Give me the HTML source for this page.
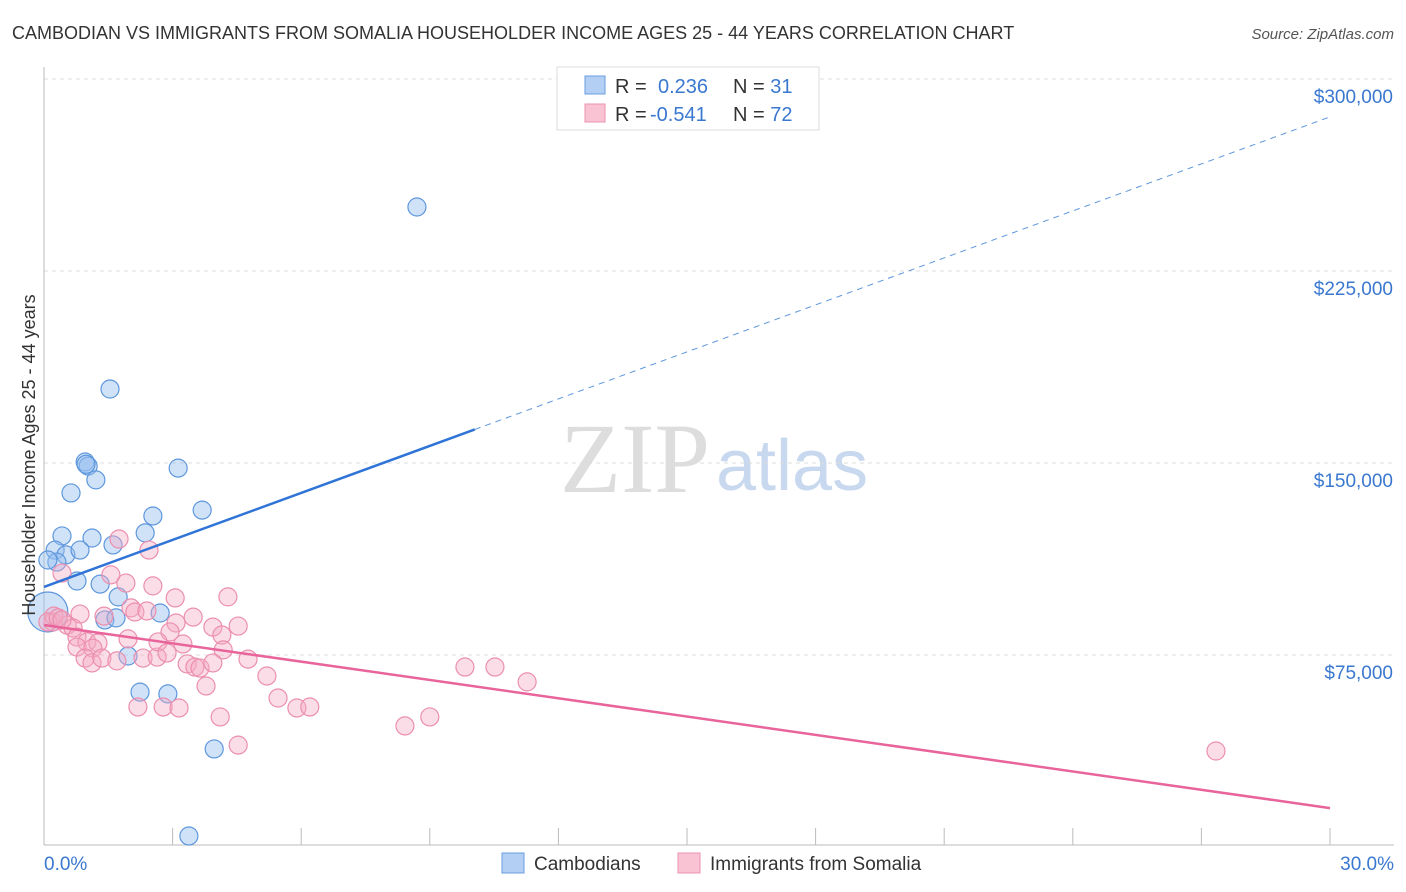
<!DOCTYPE html>
<html><head><meta charset="utf-8"><style>
body{margin:0;background:#fff;font-family:"Liberation Sans",sans-serif}
#c{position:absolute;left:0;top:0}
</style></head><body>
<svg id="c" width="1406" height="892" xmlns="http://www.w3.org/2000/svg">
<text x="12" y="39" font-size="18" fill="#333">CAMBODIAN VS IMMIGRANTS FROM SOMALIA HOUSEHOLDER INCOME AGES 25 - 44 YEARS CORRELATION CHART</text>
<text x="1394" y="39" font-size="15" fill="#555" font-style="italic" text-anchor="end">Source: ZipAtlas.com</text>
<text x="710" y="492" font-size="100" fill="#ddd" text-anchor="end" font-family="Liberation Serif,serif">ZIP</text>
<text x="716" y="490" font-size="72" fill="#c8d8ee">atlas</text>
<g id="grid"></g><g id="axes"></g><g id="pts"></g><g id="lines"></g>
<text x="35" y="455" font-size="18" fill="#333" text-anchor="middle" transform="rotate(-90 35 455)">Householder Income Ages 25 - 44 years</text>
<g>
<rect x="557" y="67" width="262" height="63" fill="#fff" stroke="#ddd"/>
<rect x="585" y="76" width="20" height="18" fill="#b3cff4" stroke="#6a9ee0"/>
<rect x="585" y="104" width="20" height="18" fill="#f9c3d4" stroke="#eb93b0"/>
<text x="615" y="93" font-size="20" fill="#333">R = <tspan fill="#3a78d0" x="658">0.236</tspan><tspan x="733" fill="#333">N = </tspan><tspan fill="#3a78d0">31</tspan></text>
<text x="615" y="121" font-size="20" fill="#333">R = <tspan fill="#3a78d0" x="650">-0.541</tspan><tspan x="733" fill="#333">N = </tspan><tspan fill="#3a78d0">72</tspan></text>
</g>
<g>
<rect x="502" y="853" width="22" height="20" fill="#b3cff4" stroke="#6a9ee0"/>
<text x="534" y="870" font-size="19" fill="#333">Cambodians</text>
<rect x="678" y="853" width="22" height="20" fill="#f9c3d4" stroke="#eb93b0"/>
<text x="710" y="870" font-size="19" fill="#333">Immigrants from Somalia</text>
</g>
</svg>
<script>
const yTicks=[75,150,225,300];
const xTickLabels=["0.0%","30.0%"];
const blueX=[8.70,1.54,0.96,1.03,3.13,1.21,0.63,2.54,3.69,0.42,1.12,0.26,0.51,0.84,1.61,2.36,0.30,0.09,0.77,1.31,1.73,2.71,1.42,1.68,0.09,1.96,2.24,2.89,3.97,3.38,0.98];
const blueY=[250.0,178.9,150.4,148.8,148.0,143.4,138.3,129.3,131.6,121.5,120.7,116.0,114.1,116.0,118.0,122.7,111.3,112.1,103.9,102.7,97.7,91.4,88.7,89.5,91.8,74.6,60.5,59.8,38.3,4.3,149.5];
const blueR=[9,9,9,9,9,9,9,9,9,9,9,9,9,9,9,9,9,9,9,9,9,9,9,9,20,9,9,9,9,9,9];
const pinkX=[1.75,2.45,0.42,1.56,1.91,2.54,3.06,4.29,0.84,1.40,2.03,2.12,2.40,3.48,3.08,3.94,4.53,2.94,4.15,0.21,0.54,0.68,0.77,1.00,1.26,0.77,1.14,0.96,1.12,1.35,1.70,1.96,2.31,2.64,2.66,2.87,3.24,4.18,4.76,3.34,3.52,3.64,3.94,5.20,3.78,5.46,5.90,6.20,2.19,2.78,3.15,4.11,4.53,9.82,10.52,11.27,8.42,9.00,27.34,0.23,0.09,0.33,0.42];
const pinkY=[120.3,116.0,107.0,106.3,103.1,102.0,97.3,97.7,91.0,90.2,93.4,91.8,92.2,89.8,87.5,85.9,86.3,84.0,82.8,87.9,86.7,85.5,82.0,80.1,79.7,78.1,77.7,73.8,71.9,73.8,72.7,81.3,73.8,74.2,80.1,75.8,79.3,77.0,73.4,71.5,70.3,69.9,71.9,66.8,62.9,58.2,54.3,54.7,54.7,54.7,54.3,50.8,39.8,70.3,70.3,64.5,47.3,50.8,37.5,90.2,87.9,89.5,88.7];
const blueTrend=[101.6,285.2], blueSolidEnd=10.05;
const pinkTrend=[86.7,15.2];
const NS="http://www.w3.org/2000/svg";
const X0=44,X1=1330,Y0=847,PXK=192/75;
const sx=v=>X0+(v/30)*(X1-X0), sy=v=>Y0-v*PXK;
function mk(t,a,p){const e=document.createElementNS(NS,t);for(const k in a)e.setAttribute(k,a[k]);p.appendChild(e);return e;}
const grid=document.getElementById('grid'),axes=document.getElementById('axes'),pts=document.getElementById('pts'),lines=document.getElementById('lines');
yTicks.forEach(v=>{
 const g=mk('line',{x1:X0,x2:1394,y1:sy(v),y2:sy(v),stroke:'#ddd','stroke-dasharray':'4 4'},grid);
 
 
 const t=mk('text',{x:1393,y:sy(v)+24,'font-size':19,fill:'#3a78d0','text-anchor':'end'},grid);
 t.textContent='$'+(v*1000).toLocaleString('en-US');
 
 
});
const ax=mk('line',{x1:X0,x2:X0,y1:67,y2:845,stroke:'#bbb'},axes);


const bx=mk('line',{x1:X0,x2:1394,y1:845,y2:845,stroke:'#bbb'},axes);


for(let i=0;i<=10;i++){const tk=mk('line',{x1:sx(i*3),x2:sx(i*3),y1:828,y2:845,stroke:'#bbb'},axes);
 
 }
[[0,'start',44],[30,'end',1394]].forEach((d,i)=>{const t=mk('text',{x:d[2],y:870,'font-size':19,fill:'#3a78d0','text-anchor':d[1]},axes);t.textContent=xTickLabels[i];
 
 });
blueX.forEach((x,i)=>{const c=mk('circle',{cx:sx(x),cy:sy(blueY[i]),r:blueR[i],fill:'rgba(150,190,240,0.45)',stroke:'#5e97dc','stroke-width':1.2},pts);
 
 });
pinkX.forEach((x,i)=>{const c=mk('circle',{cx:sx(x),cy:sy(pinkY[i]),r:9,fill:'rgba(245,170,195,0.4)',stroke:'#eb8fae','stroke-width':1.2},pts);
 
 });
const by=x=>blueTrend[0]+(blueTrend[1]-blueTrend[0])*x/30;
const l1=mk('line',{x1:sx(0),y1:sy(by(0)),x2:sx(blueSolidEnd),y2:sy(by(blueSolidEnd)),stroke:'#2f74d6','stroke-width':2.5},lines);


const l2=mk('line',{x1:sx(blueSolidEnd),y1:sy(by(blueSolidEnd)),x2:sx(30),y2:sy(by(30)),stroke:'#5e97dc','stroke-width':1,'stroke-dasharray':'6 5'},lines);


const l3=mk('line',{x1:sx(0),y1:sy(pinkTrend[0]),x2:sx(30),y2:sy(pinkTrend[1]),stroke:'#e8649a','stroke-width':2.5},lines);


</script>
</body></html>
